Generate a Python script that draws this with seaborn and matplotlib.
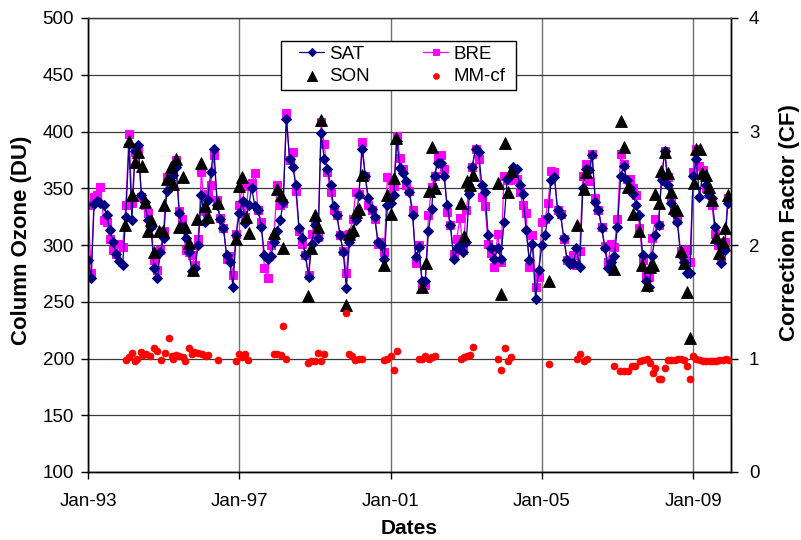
import matplotlib
matplotlib.use("Agg")
import matplotlib.pyplot as plt
import matplotlib.dates as mdates
from matplotlib.patches import Rectangle
import numpy as np
import pandas as pd
import seaborn as sns

# Monthly column ozone (DU), Jan 1993 - Dec 2009
sat = [
    287, 271, 336, 339, 337, 335, 326, 313, 303, 292, 286, 282,
    325, 389, 322, 383, 388, 344, 338, 322, 316, 280, 271, 294,
    306, 348, 357, 362, 369, 328, 316, 306, 294, 277, 280, 300,
    344, 320, 340, 364, 385, 335, 323, 315, 291, 285, 263, 309,
    328, 339, 319, 335, 350, 334, 331, 316, 291, 288, 290, 303,
    312, 322, 338, 411, 376, 369, 353, 315, 306, 291, 272, 301,
    318, 306, 399, 376, 367, 353, 334, 326, 309, 294, 262, 303,
    310, 322, 344, 385, 361, 341, 332, 325, 303, 300, 288, 335,
    337, 344, 392, 368, 363, 356, 347, 326, 289, 298, 268, 268,
    312, 332, 361, 372, 372, 361, 335, 318, 288, 297, 300, 294,
    303, 345, 369, 385, 382, 353, 347, 309, 297, 288, 297, 288,
    320, 358, 361, 369, 367, 353, 345, 313, 287, 301, 252, 278,
    300, 309, 325, 357, 360, 331, 326, 306, 287, 283, 284, 297,
    281, 350, 367, 366, 379, 338, 331, 315, 297, 280, 285, 290,
    316, 361, 370, 357, 350, 345, 335, 326, 291, 268, 263, 290,
    309, 318, 357, 383, 353, 337, 328, 320, 291, 285, 275, 275,
    361, 376, 342, 361, 353, 344, 341, 316, 303, 284, 296, 337,
]
bre = [
    335, 275, 342, 344, 351, 322, 320, 305, 296, 292, 301, 298,
    335, 398, 337, 382, 385, 342, 335, 328, 318, 287, 278, 296,
    312, 360, 362, 365, 375, 330, 323, 296, 294, 291, 282, 305,
    364, 330, 345, 353, 379, 340, 324, 315, 288, 290, 274, 310,
    335, 353, 325, 352, 355, 363, 331, 320, 280, 271, 300, 306,
    353, 335, 337, 416, 375, 382, 348, 312, 301, 291, 274, 310,
    320, 307, 408, 389, 364, 347, 331, 326, 309, 295, 275, 310,
    323, 347, 345, 391, 361, 335, 331, 323, 301, 303, 294, 360,
    345, 352, 396, 377, 367, 353, 348, 331, 284, 300, 265, 265,
    326, 351, 361, 377, 379, 367, 329, 318, 292, 305, 324, 296,
    331, 350, 369, 385, 376, 342, 334, 301, 293, 281, 310, 285,
    361, 357, 357, 365, 358, 347, 335, 328, 281, 309, 263, 272,
    320, 323, 337, 365, 364, 331, 327, 305, 287, 287, 291, 282,
    295, 361, 371, 356, 380, 341, 331, 316, 299, 285, 301, 298,
    323, 380, 371, 358, 358, 350, 344, 315, 287, 274, 272, 306,
    323, 318, 360, 383, 360, 340, 330, 322, 295, 290, 296, 285,
    364, 385, 370, 366, 350, 345, 335, 310, 300, 288, 303, 341,
]

# Ozonesonde observations: months after Jan 1993, and column ozone (DU)
son_month = [
    11.8, 12.9, 13.9, 15.0, 16.0, 17.1, 18.0, 18.9, 20.0, 21.0,
    22.6, 23.7, 24.2, 25.0, 26.3, 27.0, 27.9, 29.0, 30.0, 30.8,
    32.0, 33.2, 34.7, 35.8, 37.2, 38.2, 41.1, 47.1, 47.9, 49.0,
    50.1, 51.1, 59.0, 60.1, 61.1, 61.9, 69.9, 70.9, 72.0, 73.0,
    73.8, 82.0, 82.7, 84.0, 85.0, 86.1, 87.0, 94.0, 94.9, 96.2,
    97.0, 97.7, 106.0, 107.1, 108.1, 109.0, 110.0, 118.2, 119.2, 120.3,
    121.3, 122.1, 130.1, 131.1, 132.2, 133.3, 134.2, 146.1, 155.1, 157.2,
    158.0, 167.0, 169.1, 170.2, 171.2, 172.9, 174.9, 175.9, 177.2, 178.4,
    179.3, 179.8, 181.2, 181.9, 183.0, 184.0, 185.1, 185.8, 186.9, 188.0,
    189.0, 190.0, 191.1, 192.2, 193.0, 194.0, 194.9, 196.0, 197.0, 198.1,
    199.1, 200.2, 201.3, 202.0, 203.0,
]
son_du = [
    318, 392, 344, 373, 382, 370, 338, 312, 322, 294,
    312, 312, 335, 358, 369, 354, 376, 316, 360, 316,
    302, 278, 323, 372, 334, 325, 337, 305, 352, 360,
    325, 311, 311, 349, 344, 297, 255, 297, 326, 316,
    410, 247, 310, 313, 329, 332, 362, 282, 344, 327,
    359, 394, 263, 284, 348, 386, 350, 337, 308, 356,
    353, 362, 355, 257, 390, 347, 365, 268, 318, 349,
    364, 279, 409, 386, 351, 327, 312, 282, 265, 281,
    282, 345, 337, 365, 382, 363, 347, 333, 331, 295,
    284, 259, 218, 355, 385, 385, 363, 362, 351, 340,
    307, 293, 303, 315, 344,
]

# Correction factor: months after Jan 1993, and CF value
mm_month = [
    12.0, 12.9, 13.9, 14.8, 15.4, 16.8, 17.5, 18.4, 19.6, 21.0,
    22.0, 23.1, 24.5, 25.8, 26.5, 27.0, 28.0, 29.0, 30.0, 30.8,
    32.1, 33.0, 33.7, 35.0, 36.3, 37.4, 38.2, 41.1, 46.9, 48.0,
    49.0, 49.8, 50.9, 59.0, 60.1, 61.1, 61.9, 62.9, 69.9, 70.9,
    72.0, 73.0, 73.8, 74.8, 82.0, 82.7, 83.8, 84.8, 85.9, 87.0,
    94.0, 94.9, 96.0, 97.0, 98.0, 104.9, 106.0, 107.0, 108.1, 109.2,
    110.2, 118.2, 119.2, 120.3, 121.1, 122.1, 130.1, 131.1, 132.2, 133.3,
    134.2, 146.1, 155.1, 156.0, 157.2, 158.2, 167.0, 168.8, 170.2, 171.4,
    172.7, 173.5, 175.0, 176.1, 177.2, 178.4, 179.3, 179.8, 181.2, 181.9,
    183.0, 184.0, 185.1, 186.1, 187.2, 188.1, 189.1, 190.0, 190.9, 192.0,
    193.0, 194.0, 195.0, 196.2, 197.2, 198.2, 199.3, 200.3, 201.4, 202.5,
    203.2,
]
mm_cf = [
    0.99, 1.01, 1.05, 0.98, 1.00, 1.06, 1.03, 1.04, 1.02, 1.09,
    1.07, 0.99, 1.05, 1.18, 1.02, 1.00, 1.03, 1.02, 1.01, 0.98,
    1.09, 1.04, 1.06, 1.05, 1.04, 1.02, 1.03, 0.99, 0.98, 1.04,
    1.01, 1.04, 0.99, 1.04, 1.04, 1.03, 1.29, 1.00, 0.96, 0.98,
    0.98, 1.05, 0.98, 1.04, 1.40, 1.04, 1.02, 0.99, 1.00, 1.00,
    0.99, 1.00, 1.02, 0.90, 1.07, 1.00, 1.00, 1.02, 1.00, 1.01,
    1.02, 1.00, 1.01, 1.02, 1.03, 1.10, 1.00, 0.90, 1.09, 0.98,
    1.01, 0.95, 1.00, 1.04, 0.98, 1.00, 0.93, 0.89, 0.89, 0.89,
    0.93, 0.93, 0.98, 0.99, 1.00, 0.96, 0.87, 0.92, 0.82, 0.82,
    0.92, 0.99, 0.99, 0.99, 1.00, 1.00, 0.99, 0.93, 0.82, 1.02,
    1.00, 0.99, 0.98, 0.98, 0.98, 0.98, 0.98, 0.99, 0.99, 1.00,
    0.99,
]

ozone_ticks = [100, 150, 200, 250, 300, 350, 400, 450, 500]
cf_ticks = [0, 1, 2, 3, 4]
date_ticks = ["1993-01-01", "1997-01-01", "2001-01-01", "2005-01-01", "2009-01-01"]

start = pd.Timestamp("1993-01-01")
months = pd.date_range(start, periods=len(sat), freq="MS")


def to_dates(offsets):
    return start + pd.to_timedelta(np.asarray(offsets) * 30.4375, unit="D")


son_dates = to_dates(son_month)
mm_dates = to_dates(mm_month)

sns.set_theme(style="white")
plt.rcParams["font.family"] = ["Liberation Sans", "DejaVu Sans"]
plt.rcParams["text.color"] = "black"
plt.rcParams["axes.labelcolor"] = "black"

W, H = 801, 540
fig = plt.figure(figsize=(W / 100, H / 100), dpi=100)
left, right, top, bottom = 88, 731, 18, 472
ax = fig.add_axes([left / W, 1 - bottom / H, (right - left) / W, (bottom - top) / H])

sns.lineplot(x=months, y=sat, ax=ax, color="#000080", marker="D", markersize=4.8,
             markeredgecolor="#000080", lw=0.9, label="SAT", zorder=3)
sns.lineplot(x=months, y=bre, ax=ax, color="#FF00FF", marker="s", markersize=5.8,
             markeredgecolor="#FF00FF", lw=0.9, label="BRE", zorder=2)
sns.scatterplot(x=son_dates, y=son_du, ax=ax, marker="^", color="black",
                edgecolor="black", s=72, label="SON", zorder=4)

ax2 = ax.twinx()
sns.scatterplot(x=mm_dates, y=mm_cf, ax=ax2, marker="o", color="#FF0000",
                edgecolor="#FF0000", s=26, label="MM-cf", zorder=4)

# axes ranges and ticks
ax.set_xlim(pd.Timestamp("1993-01-01"), pd.Timestamp("2010-01-01"))
ax.set_ylim(100, 500)
ax.set_yticks(ozone_ticks)
ax2.set_ylim(0, 4)
ax2.set_yticks(cf_ticks)
ax.set_xticks(pd.to_datetime(date_ticks))
ax.xaxis.set_major_formatter(mdates.DateFormatter("%b-%y"))

ax.set_xlabel("")
ax.set_ylabel("")
ax2.set_ylabel("")

ax.grid(True, axis="y", color="#3a3a3a", lw=0.9)
ax.grid(True, axis="x", color="#707070", lw=1.0)
ax.set_axisbelow(True)

for a in (ax, ax2):
    for side in ("left", "bottom", "right"):
        a.spines[side].set_color("black")
        a.spines[side].set_linewidth(1.0)
    a.spines["top"].set_color("#3a3a3a")
    a.spines["top"].set_linewidth(0.9)

ax.tick_params(axis="both", direction="out", length=5, width=1, color="black",
               labelsize=13.5, labelcolor="black")
ax.tick_params(axis="y", pad=5, left=True)
ax.tick_params(axis="x", pad=10, bottom=True)
ax2.tick_params(axis="y", direction="out", length=5, width=1, color="black",
                labelsize=13.5, labelcolor="black", pad=8, right=True)

# legend combining both axes, inside a plain boxed frame
h1, l1 = ax.get_legend_handles_labels()
h2, l2 = ax2.get_legend_handles_labels()
ax.get_legend().remove()
ax2.get_legend().remove()
hmap = dict(zip(l1 + l2, h1 + h2))
order = ["SAT", "SON", "BRE", "MM-cf"]

box = Rectangle((281 / W, 1 - 90 / H), (516 - 281) / W, (90 - 41) / H,
                transform=fig.transFigure, facecolor="white", edgecolor="black",
                lw=1.0, zorder=10)
fig.add_artist(box)
leg = fig.legend([hmap[k] for k in order], order, ncol=2, loc="center left",
                 bbox_to_anchor=(299 / W, 1 - 65.5 / H), borderaxespad=0,
                 frameon=False, fontsize=13.5, handlelength=1.35, handletextpad=0.25,
                 columnspacing=2.85, labelspacing=0.28, borderpad=0, markerscale=0.85)
leg.set_zorder(11)

fig.text(22 / W, 1 - 240 / H, "Column Ozone (DU)", rotation=90, ha="center", va="center",
         fontsize=16, fontweight="bold", color="black")
fig.text(790 / W, 1 - 223 / H, "Correction Factor (CF)", rotation=90, ha="center", va="center",
         fontsize=16, fontweight="bold", color="black")
fig.text(409 / W, 1 - 528 / H, "Dates", ha="center", va="center",
         fontsize=15, fontweight="bold", color="black")

fig.savefig("out.png", dpi=100, facecolor="white")
